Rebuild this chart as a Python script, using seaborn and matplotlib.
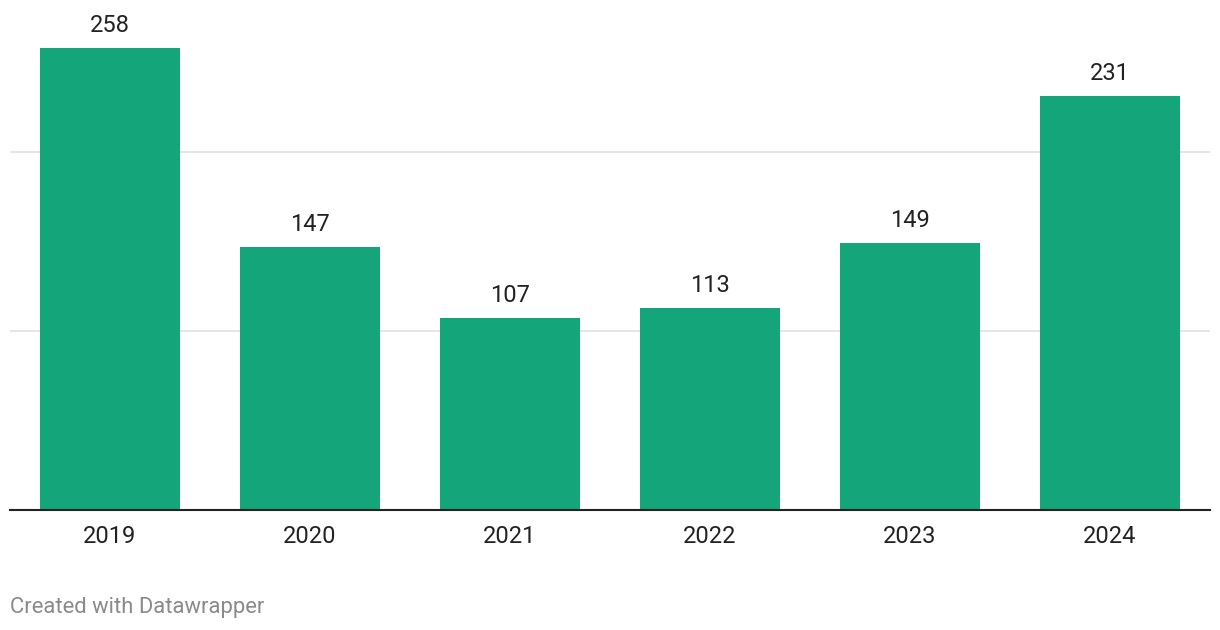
import matplotlib
matplotlib.use("Agg")
import matplotlib.pyplot as plt
import seaborn as sns
import pandas as pd

years = ["2019", "2020", "2021", "2022", "2023", "2024"]
values = [258, 147, 107, 113, 149, 231]

df = pd.DataFrame({"year": years, "value": values})

sns.set_theme(style="white")
plt.rcParams["font.family"] = ["Roboto", "DejaVu Sans"]

W, H = 1220, 630
fig = plt.figure(figsize=(W / 100, H / 100), dpi=100)
ax = fig.add_axes([10 / W, 1 - 510 / H, 1200 / W, 510 / H])

sns.barplot(data=df, x="year", y="value", color="#15a57a", saturation=1,
            width=0.7, linewidth=0, ax=ax, zorder=2)

ax.set_xlim(-0.5, len(years) - 0.5)
ax.set_ylim(0, 510 / (462 / 258))
ax.set_yticks([100, 200])
ax.yaxis.grid(True, color="#e3e3e3", linewidth=1.3, zorder=0)
ax.set_axisbelow(True)
ax.tick_params(axis="y", left=False, labelleft=False)
ax.tick_params(axis="x", bottom=False, pad=5, labelsize=17, labelcolor="#222222")
ax.set_xlabel("")
ax.set_ylabel("")
for s in ["top", "right", "left"]:
    ax.spines[s].set_visible(False)
ax.spines["bottom"].set_color("#222222")
ax.spines["bottom"].set_linewidth(1.5)
ax.spines["bottom"].set_zorder(3)

for container in ax.containers:
    ax.bar_label(container, labels=[str(v) for v in values], padding=8,
                 fontsize=17, color="#222222")

fig.text(10 / W, 1 - 608 / H, "Created with Datawrapper", fontsize=15.8,
         color="#8a8a8a", va="center", ha="left")

fig.savefig("out.png", dpi=100, facecolor="white")
